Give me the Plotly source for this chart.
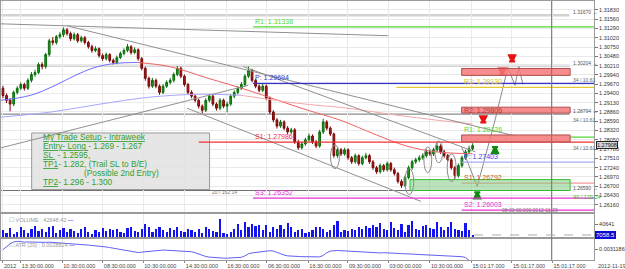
import plotly.graph_objects as go

# ---------------- data ----------------
idx = list(range(133))

opens = [1.2955,1.2934,1.2920,1.2909,1.2943,1.2955,1.2966,1.2955,1.2978,1.2995,
 1.3001,1.3024,1.3018,1.3053,1.3093,1.3088,1.3105,1.3111,1.3125,1.3114,
 1.3099,1.3111,1.3093,1.3102,1.3088,1.3076,1.3065,1.3070,1.3050,1.3041,
 1.3053,1.3036,1.3030,1.3044,1.3056,1.3065,1.3076,1.3059,1.3067,1.3041,
 1.3013,1.2984,1.2961,1.2978,1.2961,1.2943,1.2961,1.2972,1.2978,1.2995,
 1.3013,1.2990,1.2966,1.2943,1.2932,1.2920,1.2903,1.2891,1.2920,1.2932,
 1.2909,1.2897,1.2920,1.2903,1.2909,1.2932,1.2943,1.2955,1.2966,1.2990,
 1.3007,1.2978,1.2961,1.2949,1.2961,1.2926,1.2886,1.2863,1.2845,1.2857,
 1.2839,1.2828,1.2834,1.2799,1.2782,1.2793,1.2805,1.2816,1.2799,1.2787,
 1.2828,1.2857,1.2839,1.2822,1.2759,1.2776,1.2764,1.2776,1.2753,1.2741,
 1.2759,1.2736,1.2753,1.2759,1.2741,1.2724,1.2712,1.2730,1.2718,1.2736,
 1.2718,1.2707,1.2684,1.2672,1.2695,1.2724,1.2741,1.2747,1.2753,1.2759,
 1.2770,1.2764,1.2776,1.2787,1.2770,1.2759,1.2747,1.2724,1.2701,1.2730,
 1.2753,1.2770,1.2779]

highs = [1.2962,1.2940,1.2926,1.2948,1.2961,1.2972,1.2971,1.2984,1.3002,1.3009,
 1.3030,1.3031,1.3058,1.3099,1.3104,1.3110,1.3118,1.3132,1.3130,1.3120,
 1.3117,1.3116,1.3108,1.3107,1.3093,1.3082,1.3077,1.3074,1.3056,1.3059,
 1.3057,1.3042,1.3050,1.3062,1.3071,1.3084,1.3080,1.3074,1.3071,1.3046,
 1.3018,1.2989,1.2985,1.2983,1.2966,1.2967,1.2978,1.2985,1.3001,1.3020,
 1.3018,1.2995,1.2971,1.2949,1.2938,1.2925,1.2908,1.2926,1.2938,1.2937,
 1.2914,1.2926,1.2925,1.2916,1.2938,1.2949,1.2961,1.2973,1.2996,1.3018,
 1.3012,1.2983,1.2966,1.2968,1.2966,1.2931,1.2891,1.2868,1.2863,1.2862,
 1.2845,1.2840,1.2839,1.2805,1.2799,1.2811,1.2823,1.2821,1.2804,1.2834,
 1.2866,1.2862,1.2844,1.2826,1.2782,1.2781,1.2782,1.2780,1.2758,1.2765,
 1.2763,1.2759,1.2767,1.2764,1.2746,1.2729,1.2736,1.2735,1.2742,1.2741,
 1.2724,1.2712,1.2690,1.2701,1.2730,1.2747,1.2753,1.2760,1.2766,1.2777,
 1.2776,1.2782,1.2799,1.2792,1.2776,1.2764,1.2752,1.2729,1.2736,1.2759,
 1.2776,1.2788,1.2795]

lows = [1.2926,1.2912,1.2888,1.2903,1.2937,1.2950,1.2948,1.2950,1.2972,1.2988,
 1.2996,1.3010,1.3012,1.3047,1.3080,1.3082,1.3099,1.3104,1.3108,1.3092,
 1.3094,1.3087,1.3088,1.3082,1.3070,1.3058,1.3060,1.3044,1.3035,1.3036,
 1.3030,1.3024,1.3025,1.3040,1.3051,1.3060,1.3053,1.3054,1.3035,1.3007,
 1.2977,1.2954,1.2956,1.2955,1.2936,1.2938,1.2956,1.2966,1.2972,1.2990,
 1.2984,1.2960,1.2937,1.2926,1.2914,1.2896,1.2882,1.2886,1.2914,1.2903,
 1.2890,1.2891,1.2897,1.2885,1.2904,1.2926,1.2937,1.2950,1.2960,1.2985,
 1.2972,1.2955,1.2943,1.2944,1.2920,1.2880,1.2856,1.2838,1.2840,1.2833,
 1.2822,1.2822,1.2793,1.2776,1.2777,1.2788,1.2800,1.2793,1.2781,1.2782,
 1.2822,1.2833,1.2816,1.2753,1.2753,1.2758,1.2759,1.2747,1.2735,1.2736,
 1.2730,1.2731,1.2748,1.2735,1.2718,1.2706,1.2707,1.2712,1.2713,1.2712,
 1.2701,1.2678,1.2665,1.2667,1.2690,1.2718,1.2735,1.2741,1.2747,1.2753,
 1.2758,1.2758,1.2770,1.2764,1.2753,1.2741,1.2718,1.2690,1.2695,1.2724,
 1.2747,1.2764,1.2773]

closes = [1.2934,1.2920,1.2909,1.2943,1.2955,1.2966,1.2955,1.2978,1.2995,1.3001,
 1.3024,1.3018,1.3053,1.3093,1.3088,1.3105,1.3111,1.3125,1.3114,1.3099,
 1.3111,1.3093,1.3102,1.3088,1.3076,1.3065,1.3070,1.3050,1.3041,1.3053,
 1.3036,1.3030,1.3044,1.3056,1.3065,1.3076,1.3059,1.3067,1.3041,1.3013,
 1.2984,1.2961,1.2978,1.2961,1.2943,1.2961,1.2972,1.2978,1.2995,1.3013,
 1.2990,1.2966,1.2943,1.2932,1.2920,1.2903,1.2891,1.2920,1.2932,1.2909,
 1.2897,1.2920,1.2903,1.2909,1.2932,1.2943,1.2955,1.2966,1.2990,1.3007,
 1.2978,1.2961,1.2949,1.2961,1.2926,1.2886,1.2863,1.2845,1.2857,1.2839,
 1.2828,1.2834,1.2799,1.2782,1.2793,1.2805,1.2816,1.2799,1.2787,1.2828,
 1.2857,1.2839,1.2822,1.2759,1.2776,1.2764,1.2776,1.2753,1.2741,1.2759,
 1.2736,1.2753,1.2759,1.2741,1.2724,1.2712,1.2730,1.2718,1.2736,1.2718,
 1.2707,1.2684,1.2672,1.2695,1.2724,1.2741,1.2747,1.2753,1.2759,1.2770,
 1.2764,1.2776,1.2787,1.2770,1.2759,1.2747,1.2724,1.2701,1.2730,1.2753,
 1.2770,1.2779,1.2788]

volumes = [22000,12000,28000,10000,15000,30000,20000,12000,25000,35000,
 18000,26000,15000,30000,34000,12000,20000,28000,14000,26000,
 18000,12000,24000,30000,16000,10000,22000,14000,28000,18000,
 24000,20000,26000,16000,12000,28000,30000,18000,14000,24000,
 40000,32000,14000,26000,30000,20000,16000,28000,22000,30000,
 18000,14000,26000,20000,16000,24000,12000,30000,26000,18000,
 14000,56000,12000,10000,16000,24000,40000,22000,46000,30000,
 42000,34000,38000,20000,36000,14000,30000,24000,38000,26000,
 44000,30000,16000,20000,26000,12000,14000,22000,30000,32000,
 26000,16000,20000,36000,50000,14000,20000,18000,24000,22000,
 30000,26000,34000,28000,38000,30000,44000,26000,22000,46000,
 28000,22000,40000,16000,36000,50000,24000,20000,34000,38000,
 28000,24000,46000,30000,22000,30000,48000,26000,22000,18000,
 44000,20000,7058.5]

atr = [.00310,.00325,.00338,.00347,.00350,.00349,.00346,.00347,.00346,.00345,
 .00345,.00344,.00345,.00346,.00345,.00343,.00342,.00341,.00340,.00339,
 .00337,.00336,.00335,.00333,.00332,.00330,.00329,.00327,.00325,.00323,
 .00320,.00317,.00314,.00311,.00308,.00305,.00301,.00297,.00296,.00298,
 .00300,.00303,.00305,.00307,.00308,.00308,.00307,.00306,.00305,.00305,
 .00304,.00303,.00302,.00300,.00295,.00289,.00282,.00277,.00274,.00272,
 .00270,.00269,.00269,.00269,.00270,.00270,.00271,.00273,.00280,.00290,
 .00294,.00296,.00297,.00300,.00303,.00305,.00303,.00296,.00289,.00284,
 .00280,.00278,.00278,.00277,.00276,.00276,.00275,.00274,.00274,.00275,
 .00282,.00295,.00303,.00306,.00306,.00305,.00304,.00303,.00302,.00301,
 .00300,.00299,.00298,.00296,.00294,.00293,.00294,.00295,.00295,.00294,
 .00293,.00292,.00291,.00290,.00289,.00288,.00288,.00288,.00287,.00287,
 .00286,.00285,.00284,.00283,.00282,.00281,.00280,.00279,.00278,.00276,
 .00272,.00262,.00245]

# moving averages (read as knots: candle index, price)
ma_fast_up_x = [-0.56, 7.8, 14.7, 20.3, 25.8, 31.4, 37.8]
ma_fast_up_y = [1.29202, 1.29346, 1.29635, 1.29924, 1.30154, 1.30270, 1.30299]
ma_fast_dn_x = [37.8, 46.7, 57.8, 68.9, 77.2, 85.6, 94.7, 105.0, 113.3, 121.7, 132.0]
ma_fast_dn_y = [1.30299, 1.30183, 1.29837, 1.29491, 1.29202, 1.28913, 1.28625, 1.28192, 1.27874, 1.27701, 1.27644]
ma_slow_up_x = [-0.56, 13.3, 27.2, 41.1, 55.0, 66.9]
ma_slow_up_y = [1.28711, 1.28856, 1.29087, 1.29289, 1.29375, 1.29346]
ma_slow_dn_x = [66.9, 82.8, 96.7, 110.6, 121.7, 132.0]
ma_slow_dn_y = [1.29346, 1.29115, 1.28971, 1.28769, 1.28625, 1.28509]

# x tick labels
x_tick_pos = [0, 5.0, 16.67, 28.06, 39.44, 51.11, 62.78, 74.17, 85.83, 96.94, 108.33, 120.0, 131.67, 143.06, 154.44]
x_tick_text = ["2012", "13:30:00.000", "10:30:00.000", "08:30:00.000", "10:30:00.000", "14:30:00.000",
               "16:30:00.000", "06:30:00.000", "16:30:00.000", "09:30:00.000", "03:00:00.000",
               "10:30:00.000", "15:01:17.000", "15:01:17.000", "15:01:17.000"]

# price ticks
price_ticks = [1.2616, 1.2643, 1.2670, 1.2697, 1.2724, 1.2751, 1.2778, 1.2805, 1.2832, 1.2859, 1.2886,
               1.2913, 1.2940, 1.2967, 1.2994, 1.3021, 1.3048, 1.3075, 1.3102, 1.3129, 1.3156, 1.3183]
price_tick_text = ["%.5f" % v for v in price_ticks]

# pivot levels: (label, price, color, x_start)
weekly_pivots = [("R1: 1.31338", 1.31338, "#55d633", 70.3),
                 ("P: 1.29694", 1.29694, "#3434c8", 70.3),
                 ("S1: 1.27986", 1.27986, "#f03030", 55.0),
                 ("S3: 1.26352", 1.26352, "#e830d0", 70.3)]
daily_lines = [("R3: 1.29130", 1.29577, "#e8c830", 110.6),
               ("P: 1.27403", 1.27403, "#a8acf5", 128.9),
               ("S1: 1.26792", 1.26792, "#f59a9a", 128.9),
               ("S2: 1.26003", 1.26003, "#e830d0", 128.9)]

# gray horizontal levels (price, color, width, label)
h_levels = [(1.31670, "#d2d2d2", 2.5, "1.31670"),
            (1.30204, "#d2d2d2", 2.5, "1.30204"),
            (1.28798, "#707070", 1, "1.28794"),
            (1.26576, "#707070", 1, "1.26590")]

# trend lines (x0, y0, x1, y1)
trend_lines = [(-0.56, 1.31424, 108.3, 1.31078),
               (18.06, 1.31366, 143.9, 1.28163),
               (67.5, 1.30183, 132.8, 1.27701),
               (-0.56, 1.27817, 68.9, 1.29635),
               (51.7, 1.28971, 117.5, 1.26258)]

# zones (x0, x1, y0, y1, kind)
zones = [(128.9, 159.4, 1.29924, 1.30126, "red"),
         (128.9, 159.4, 1.28827, 1.29000, "red"),
         (128.9, 159.4, 1.27990, 1.28192, "red"),
         (114.4, 159.4, 1.26576, 1.26893, "green")]

# ellipses (x center, half-width, y center, half-height)
ellipses = [(93.3, 1.25, 1.27557, 0.00346),
            (114.2, 1.25, 1.26836, 0.00375),
            (119.4, 1.1, 1.27470, 0.00375),
            (122.5, 1.1, 1.27701, 0.00317),
            (126.1, 1.25, 1.27240, 0.00404)]

# projected path
proj_x = [128.9, 133.3, 138.3, 141.9, 143.9, 145.0, 146.1]
proj_y = [1.27846, 1.26691, 1.28625, 1.30154, 1.29635, 1.30183, 1.29664]

# signal arrows
down_arrows_x = [143.1, 140.3, 135.0]
down_arrows_y = [1.30330, 1.29950, 1.28560]
up_arrows_x = [138.3, 133.3]
up_arrows_y = [1.27840, 1.26520]

setup_lines = [('<span style="text-decoration:underline">My Trade Setup - Intraweek</span>', 10.6),
               ('<span style="text-decoration:underline">Entry- Long </span>- 1.269 - 1.267', 10.6),
               ('<span style="text-decoration:underline">SL </span> - 1.2595,', 10.6),
               ('<span style="text-decoration:underline">TP1</span>- 1.282, (Trail SL to B/E)', 10.6),
               ('(Possible 2nd Entry)', 22.2),
               ('<span style="text-decoration:underline">TP2</span>- 1.296 - 1.300', 10.6)]
setup_y = [1.28134, 1.27874, 1.27615, 1.27355, 1.27095, 1.26836]

last_price = 1.27908
last_volume = 7058.5
cursor_x = 154.2

# ---------------- figure ----------------
XR = [-0.556, 166.11]
FONT = "Liberation Sans"
fig = go.Figure()

fig.add_trace(go.Candlestick(
    x=idx, open=opens, high=highs, low=lows, close=closes,
    xaxis="x", yaxis="y", whiskerwidth=0,
    increasing=dict(line=dict(color="#0c6e0c", width=1), fillcolor="#1f9a1f"),
    decreasing=dict(line=dict(color="#7a0a0a", width=1), fillcolor="#a81616"),
    showlegend=False, hoverinfo="skip"))

for xs, ys, col in [(ma_fast_up_x, ma_fast_up_y, "#6b6bff"),
                    (ma_fast_dn_x, ma_fast_dn_y, "#f06060"),
                    (ma_slow_up_x, ma_slow_up_y, "#a6a6ff"),
                    (ma_slow_dn_x, ma_slow_dn_y, "#f7a8a8")]:
    fig.add_trace(go.Scatter(x=xs, y=ys, mode="lines", xaxis="x", yaxis="y",
                             line=dict(color=col, width=1, shape="spline"),
                             showlegend=False, hoverinfo="skip"))

fig.add_trace(go.Scatter(x=proj_x, y=proj_y, mode="lines", xaxis="x", yaxis="y",
                         line=dict(color="#8a8a8a", width=1), showlegend=False, hoverinfo="skip"))

fig.add_trace(go.Scatter(x=down_arrows_x, y=down_arrows_y, mode="markers", xaxis="x", yaxis="y",
                         marker=dict(symbol="arrow-bar-down", size=6, color="#e81010",
                                     line=dict(color="#e81010", width=2.2)),
                         showlegend=False, hoverinfo="skip"))
fig.add_trace(go.Scatter(x=up_arrows_x, y=up_arrows_y, mode="markers", xaxis="x", yaxis="y",
                         marker=dict(symbol="arrow-bar-up", size=6, color="#0e8a0e",
                                     line=dict(color="#0e8a0e", width=2.2)),
                         showlegend=False, hoverinfo="skip"))

fig.add_trace(go.Bar(x=idx, y=volumes, xaxis="x2", yaxis="y2", marker=dict(color="#1414ee", line=dict(width=0)),
                     width=0.62, showlegend=False, hoverinfo="skip"))

fig.add_trace(go.Scatter(x=idx, y=atr, mode="lines", xaxis="x3", yaxis="y3",
                         line=dict(color="#6060f0", width=1), showlegend=False, hoverinfo="skip"))

shapes = []
annotations = []

def txt(x, y, text, color, size=7, xanchor="left", yanchor="bottom", xref="x", yref="y", **kw):
    annotations.append(dict(x=x, y=y, xref=xref, yref=yref, text=text, showarrow=False,
                            xanchor=xanchor, yanchor=yanchor,
                            font=dict(family=FONT, size=size, color=color), **kw))

# text box
shapes.append(dict(type="rect", xref="x", yref="y", x0=8.06, x1=58.06, y0=1.26605, y1=1.28250,
                   fillcolor="rgba(226,226,226,0.85)", line=dict(color="#9a9a9a", width=1), layer="above"))
for (t, xs), ys in zip(setup_lines, setup_y):
    txt(xs, ys, t, "#2f9e2f", size=8.3, yanchor="middle")

# gray horizontal levels
for p, col, w, lab in h_levels:
    shapes.append(dict(type="line", xref="x", yref="y", x0=-0.556, x1=159.2, y0=p, y1=p,
                       line=dict(color=col, width=w), layer="below"))
    txt(159.7, p, lab + " \u2192", "#555", size=5, yanchor="bottom", yshift=-2)

# trend lines
for x0, y0, x1, y1 in trend_lines:
    shapes.append(dict(type="line", xref="x", yref="y", x0=x0, y0=y0, x1=x1, y1=y1,
                       line=dict(color="#909090", width=1)))

# pivot lines
for lab, p, col, xs in weekly_pivots:
    shapes.append(dict(type="line", xref="x", yref="y", x0=xs, x1=XR[1], y0=p, y1=p,
                       line=dict(color=col, width=1.2)))
    txt(70.3, p, lab, col, size=7)
for lab, p, col, xs in daily_lines:
    shapes.append(dict(type="line", xref="x", yref="y", x0=xs, x1=XR[1], y0=p, y1=p,
                       line=dict(color=col, width=1.2)))
daily_label_col = {"R3: 1.29130": "#e0c020", "P: 1.27403": "#4a4aee", "S1: 1.26792": "#c05a28", "S2: 1.26003": "#e830d0"}
for lab, p, col, xs in daily_lines:
    txt(128.9, p, lab, daily_label_col[lab], size=7)
shapes.append(dict(type="line", xref="x", yref="y", x0=159.4, x1=XR[1], y0=1.28126, y1=1.28126,
                   line=dict(color="#55d633", width=1.2)))

# zones
for x0, x1, y0, y1, kind in zones:
    if kind == "red":
        shapes.append(dict(type="rect", xref="x", yref="y", x0=x0, x1=x1, y0=y0, y1=y1,
                           fillcolor="rgba(245,120,120,0.85)", line=dict(color="#b05050", width=1)))
    else:
        shapes.append(dict(type="rect", xref="x", yref="y", x0=x0, x1=x1, y0=y0, y1=y1,
                           fillcolor="rgba(120,200,120,0.5)", line=dict(color="#33bb33", width=1)))
txt(128.9, 1.28913, "R2: 1.29806", "#b83838", size=7, yanchor="middle")
txt(128.9, 1.28192, "R1: 1.28126", "#55d633", size=7)

# ellipses
for cx, hw, cy, hh in ellipses:
    shapes.append(dict(type="circle", xref="x", yref="y", x0=cx - hw, x1=cx + hw, y0=cy - hh, y1=cy + hh,
                       line=dict(color="#8c8c8c", width=1)))

# cursor line
shapes.append(dict(type="line", xref="x", yref="paper", x0=cursor_x, x1=cursor_x, y0=0, y1=1,
                   line=dict(color="#777", width=1)))
# volume dashed level
shapes.append(dict(type="line", xref="x2", yref="y2", x0=132.4, x1=XR[1], y0=last_volume, y1=last_volume,
                   line=dict(color="#aaa", width=1, dash="dash")))

# small labels
txt(159.7, 1.29924, "34 / 10.61", "#666", size=5, yanchor="top")
txt(159.7, 1.28798, "34 / 10.61", "#666", size=5, yanchor="top", yshift=-1)
txt(159.7, 1.27990, "34 / 10.61", "#666", size=5, yanchor="top", yshift=-1)
txt(159.7, 1.26576, "40 / 129.24", "#33bb33", size=5.5, yanchor="top", yshift=-1)
txt(139.7, 1.26003, "08:00:00.000 2012-11-29", "#777", size=5, yanchor="middle")
txt(58.3, 1.26547, "20 / 162.14", "#777", size=5, yanchor="middle")

# panel captions
txt(1, 0.97, '\u2610 VOLUME : 42648.42 <span style="color:#1414ee">\u2014</span>', "#999",
    size=5.5, xref="x2", yref="y2 domain", yanchor="top")
txt(1, 0.97, '\u2610 ATR (20) : 0.0028824 <span style="color:#1414ee">\u2014</span>', "#999",
    size=5.5, xref="x3", yref="y3 domain", yanchor="top")

# right-side value boxes
annotations.append(dict(x=1.0, y=last_price, xref="paper", yref="y", text="1.27908", showarrow=False,
                        xanchor="left", yanchor="middle", xshift=2, bgcolor="#d6d6d6", bordercolor="#222",
                        borderwidth=1, borderpad=0, font=dict(family=FONT, size=5.5, color="#111")))
annotations.append(dict(x=1.0, y=last_volume, xref="paper", yref="y2", text="7058.5", showarrow=False,
                        xanchor="left", yanchor="middle", xshift=1, bgcolor="#0a0ad0", bordercolor="#0a0ad0",
                        borderwidth=1, borderpad=0, font=dict(family=FONT, size=6, color="#fff")))
annotations.append(dict(x=1.0, y=0, xref="paper", yref="paper", text="2012-11-19", showarrow=False,
                        xanchor="left", yanchor="top", xshift=2, yshift=-1,
                        font=dict(family=FONT, size=5.5, color="#444")))

grid = "#e9e9e9"
axis_common = dict(showline=True, linecolor="#9a9a9a", linewidth=1, mirror=True, zeroline=False,
                   gridcolor=grid, gridwidth=1)
xcommon = dict(range=XR, tickvals=x_tick_pos, showgrid=True, **axis_common)

fig.update_layout(
    width=625, height=269, margin=dict(l=0, r=25, t=0, b=8),
    paper_bgcolor="white", plot_bgcolor="white", showlegend=False, bargap=0,
    font=dict(family=FONT, size=6, color="#333"),
    xaxis=dict(anchor="y", showticklabels=False, ticks="", rangeslider=dict(visible=False), **xcommon),
    xaxis2=dict(anchor="y2", matches="x", showticklabels=False, ticks="", **xcommon),
    xaxis3=dict(anchor="y3", matches="x", ticktext=x_tick_text, ticks="outside", ticklen=2,
                tickcolor="#888", ticklabelposition="outside right", tickangle=0,
                tickfont=dict(family=FONT, size=5.5, color="#444"), **xcommon),
    yaxis=dict(domain=[0.184, 1.0], range=[1.25941, 1.32088], side="right", tickvals=price_ticks,
               ticktext=price_tick_text, ticks="outside", ticklen=3, tickcolor="#777",
               tickfont=dict(family=FONT, size=5.5, color="#333"), showgrid=True, **axis_common),
    yaxis2=dict(domain=[0.088, 0.176], range=[0, 72000], side="right", anchor="x2", tickvals=[40641],
                ticktext=["40641"], ticks="outside", ticklen=3, tickcolor="#777",
                tickfont=dict(family=FONT, size=5.5, color="#333"), showgrid=False, **axis_common),
    yaxis3=dict(domain=[0.0, 0.08], range=[0.0026, 0.0036], side="right", anchor="x3",
                tickvals=[0.0031186], ticktext=["0.0031186"], ticks="outside", ticklen=3, tickcolor="#777",
                tickfont=dict(family=FONT, size=5.5, color="#333"), showgrid=False, **axis_common),
    shapes=shapes, annotations=annotations,
)

fig.write_html("out.html")
